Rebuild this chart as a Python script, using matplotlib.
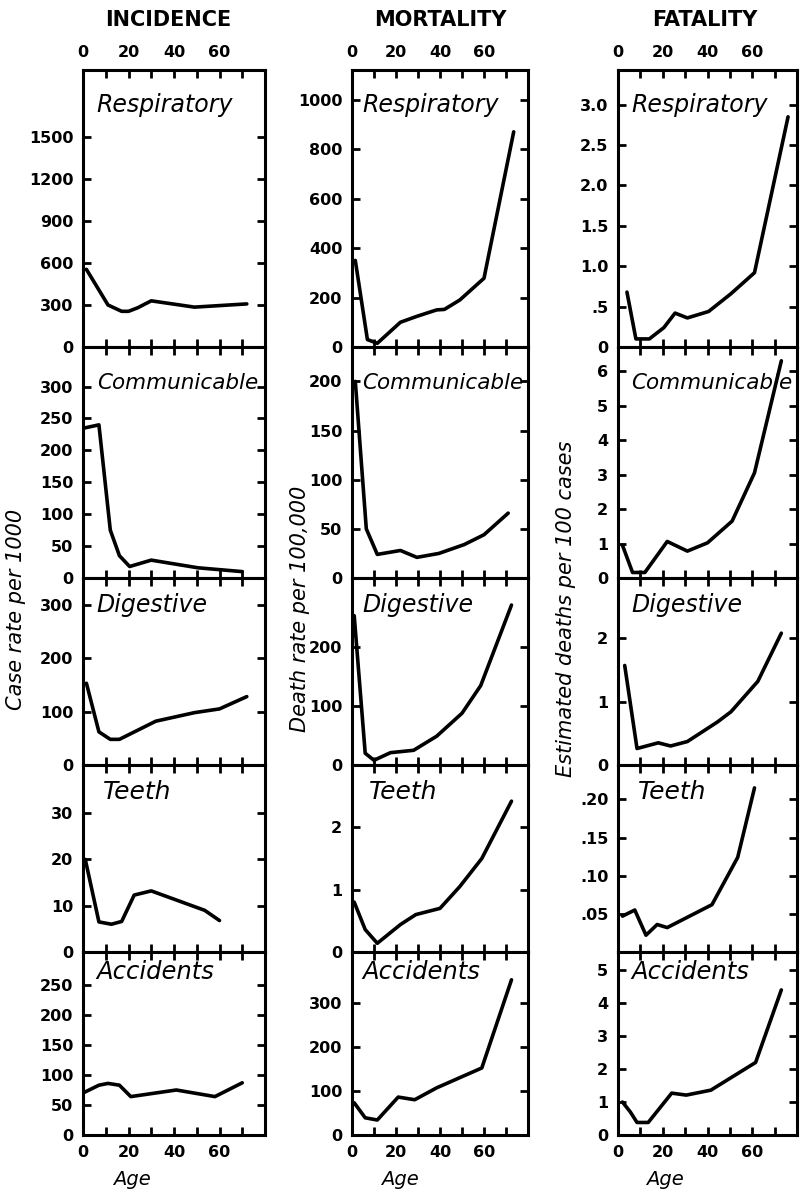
import matplotlib.pyplot as plt

# column / row names
columns = ['INCIDENCE', 'MORTALITY', 'FATALITY']
causes = ['Respiratory', 'Communicable', 'Digestive', 'Teeth', 'Accidents']
ylabels = ['Case rate per 1000', 'Death rate per 100,000', 'Estimated deaths per 100 cases']

# --- Incidence: cases per 1000 ---
inc_resp_age = [1.5, 11, 17, 20, 24, 30, 49, 72]
inc_resp = [555, 300, 255, 255, 280, 330, 285, 308]
inc_comm_age = [0.5, 7, 12, 16, 20.5, 30, 50.5, 70]
inc_comm = [235, 240, 75, 35, 18, 28, 16, 10]
inc_dig_age = [1.5, 7, 12, 16, 32, 49, 60, 72]
inc_dig = [153, 62, 48, 48, 82, 98, 105, 128]
inc_teeth_age = [1, 7, 12.5, 17, 22.5, 30, 53.5, 60]
inc_teeth = [20, 6.5, 6, 6.6, 12.3, 13.2, 9, 6.8]
inc_acc_age = [0, 7, 11, 16, 21, 41, 58, 70]
inc_acc = [70, 83, 86, 83, 64, 75, 64, 87]

# --- Mortality: deaths per 100,000 ---
mort_resp_age = [1.5, 7, 11.5, 22, 29.5, 38.5, 42, 49, 60, 73.5]
mort_resp = [350, 30, 15, 100, 124, 150, 152, 190, 278, 870]
mort_comm_age = [1.5, 6.5, 11.5, 22, 29.5, 39.5, 51, 60, 71]
mort_comm = [200, 50, 24, 28, 21, 25, 34, 44, 66]
mort_dig_age = [1, 6, 10, 17.5, 28, 38.5, 50, 58.5, 72.5]
mort_dig = [254, 20, 8, 21, 25, 49, 88, 135, 272]
mort_teeth_age = [1, 6, 11.5, 22, 29, 40, 49, 59, 72.5]
mort_teeth = [0.8, 0.36, 0.14, 0.44, 0.6, 0.7, 1.05, 1.5, 2.42]
mort_acc_age = [1, 6, 11.5, 21, 28.5, 38.5, 59, 72.5]
mort_acc = [73, 39, 34, 86, 80, 107, 152, 352]

# --- Fatality: estimated deaths per 100 cases ---
fat_resp_age = [4, 8, 14, 20.5, 25.5, 31, 40.5, 50.5, 61, 76]
fat_resp = [0.68, 0.1, 0.1, 0.24, 0.42, 0.36, 0.44, 0.66, 0.92, 2.85]
fat_comm_age = [2, 6.5, 12, 22, 31, 40, 51, 61, 73]
fat_comm = [0.95, 0.16, 0.16, 1.06, 0.78, 1.02, 1.65, 3.05, 6.3]
fat_dig_age = [3, 8.5, 18, 23.5, 31, 44.5, 50.5, 62.5, 73]
fat_dig = [1.57, 0.26, 0.35, 0.3, 0.37, 0.68, 0.84, 1.32, 2.08]
fat_teeth_age = [2, 7.5, 12.5, 17.5, 22, 42, 53.5, 61]
fat_teeth = [0.047, 0.055, 0.022, 0.036, 0.032, 0.062, 0.124, 0.215]
fat_acc_age = [2, 5.5, 8.5, 13.5, 24, 30.5, 41.5, 61.5, 73]
fat_acc = [1.0, 0.7, 0.38, 0.38, 1.27, 1.21, 1.36, 2.2, 4.4]

# y tick values and labels per panel
inc_ticks = [[0, 300, 600, 900, 1200, 1500], [0, 50, 100, 150, 200, 250, 300],
             [0, 100, 200, 300], [0, 10, 20, 30], [0, 50, 100, 150, 200, 250]]
mort_ticks = [[0, 200, 400, 600, 800, 1000], [0, 50, 100, 150, 200],
              [0, 100, 200], [0, 1, 2], [0, 100, 200, 300]]
fat_ticks = [[0, 0.5, 1.0, 1.5, 2.0, 2.5, 3.0], [0, 1, 2, 3, 4, 5, 6],
             [0, 1, 2], [0.05, 0.10, 0.15, 0.20], [0, 1, 2, 3, 4, 5]]
fat_tick_labels = [['0', '.5', '1.0', '1.5', '2.0', '2.5', '3.0'], None, None,
                   ['.05', '.10', '.15', '.20'], None]

age_ticks = [0, 10, 20, 30, 40, 50, 60, 70]
age_labels = ['0', '', '20', '', '40', '', '60', '']

series = [
    [(inc_resp_age, inc_resp), (inc_comm_age, inc_comm), (inc_dig_age, inc_dig),
     (inc_teeth_age, inc_teeth), (inc_acc_age, inc_acc)],
    [(mort_resp_age, mort_resp), (mort_comm_age, mort_comm), (mort_dig_age, mort_dig),
     (mort_teeth_age, mort_teeth), (mort_acc_age, mort_acc)],
    [(fat_resp_age, fat_resp), (fat_comm_age, fat_comm), (fat_dig_age, fat_dig),
     (fat_teeth_age, fat_teeth), (fat_acc_age, fat_acc)],
]
ticks = [inc_ticks, mort_ticks, fat_ticks]
tick_labels = [[None] * 5, [None] * 5, fat_tick_labels]
ylims = [[1980, 362, 350, 40.4, 305],
         [1120, 235, 318, 3.0, 415],
         [3.43, 6.7, 2.95, 0.245, 5.55]]

# layout in pixels of the 802x1197 figure
W, H = 802, 1197
col_px = [(83, 265), (352, 528), (618, 797)]
row_px = [(70, 347), (347, 578), (578, 765), (765, 952), (952, 1135)]
name_y = [0.875, 0.845, 0.856, 0.856, 0.89]
name_size = [17, 15.5, 17, 18, 17.5]
name_dx = [0, 0, 0, 0.035, 0]
name_x = [0.075, 0.06, 0.075]
title_x = [168, 440, 705]
ylabel_x = [16, 300, 566]
age_x = [0.27, 0.27, 0.26]

fig = plt.figure(figsize=(W / 100, H / 100), dpi=100)

for c in range(3):
    x0, x1 = col_px[c]
    for r in range(5):
        y0, y1 = row_px[r]
        ax = fig.add_axes([x0 / W, 1 - y1 / H, (x1 - x0) / W, (y1 - y0) / H])
        ages, vals = series[c][r]
        ax.plot(ages, vals, color='black', lw=2.6, solid_joinstyle='round',
                solid_capstyle='round')
        ax.set_xlim(0, 80)
        ax.set_ylim(0, ylims[c][r])
        ax.set_yticks(ticks[c][r])
        if tick_labels[c][r] is not None:
            ax.set_yticklabels(tick_labels[c][r])
        ax.set_xticks(age_ticks)
        ax.set_xticklabels(age_labels)
        for s in ax.spines.values():
            s.set_linewidth(2.2)
        ax.tick_params(axis='both', direction='in', length=6, width=2,
                       labelsize=11.5, pad=7)
        ax.tick_params(axis='y', right=True, labelright=False)
        ax.tick_params(axis='x', top=True, labeltop=(r == 0),
                       labelbottom=(r == 4))
        for lab in ax.get_xticklabels() + ax.get_yticklabels():
            lab.set_fontweight('bold')
        ax.text(name_x[c] + name_dx[r], name_y[r], causes[r], transform=ax.transAxes,
                fontsize=name_size[r], style='italic', ha='left', va='center')
        if r == 4:
            ax.set_xlabel('Age', fontsize=14, style='italic', labelpad=0)
            ax.xaxis.set_label_coords(age_x[c], -0.19)
    fig.text(title_x[c] / W, 1 - 20 / H, columns[c], fontsize=15,
             fontweight='bold', ha='center', va='center')
    fig.text(ylabel_x[c] / W, 1 - 609 / H, ylabels[c], rotation=90,
             fontsize=15, style='italic', ha='center', va='center')

fig.savefig('out.png', dpi=100, facecolor='white')
